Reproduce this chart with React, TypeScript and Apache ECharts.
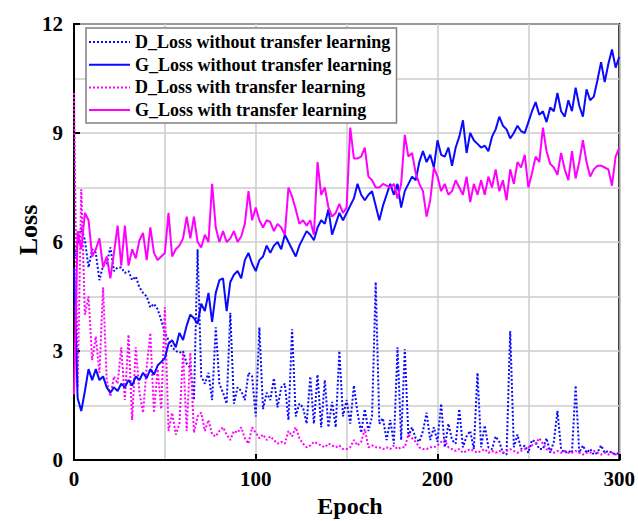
import React, { useEffect, useRef } from "react";
import * as echarts from "echarts";

// Epoch sampling step used for all series (values read every 2 epochs)
const EPOCH_STEP = 2;

const X_TICKS = [0, 100, 200, 300];
const Y_TICKS = [0, 3, 6, 9, 12];

const SERIES_NAMES = [
  "D_Loss without transfer learning",
  "G_Loss without transfer learning",
  "D_Loss with transfer learning",
  "G_Loss with transfer learning",
];

// D_Loss without transfer learning (blue, dotted)
const dLossWithout = [
  5.5, 6.0, 6.4, 6.05, 5.3, 5.8, 5.7, 4.95, 5.35, 5.4,
  5.85, 5.2, 5.3, 5.3, 5.15, 5.2, 4.95, 5.05, 4.75, 4.6,
  4.5, 4.2, 4.3, 4.15, 3.85, 3.5, 3.3, 3.1, 3.0, 2.95,
  3.0, 2.65, 2.55, 1.65, 5.8, 2.3, 2.1, 2.4, 1.65, 3.65,
  2.1, 1.85, 1.55, 4.05, 1.55, 2.0, 1.9, 1.65, 2.4, 2.3,
  1.2, 3.65, 1.4, 1.85, 1.65, 2.25, 1.45, 2.0, 2.1, 1.1,
  3.6, 1.2, 1.55, 1.45, 1.0, 2.3, 1.0, 2.35, 0.9, 2.2,
  0.9, 1.6, 0.9, 3.0, 1.2, 1.65, 1.0, 2.05, 1.3, 0.75,
  1.4, 0.8, 1.2, 4.9, 1.0, 1.15, 0.55, 1.1, 0.45, 3.1,
  0.55, 3.05, 0.65, 0.9, 0.6, 0.5, 0.8, 1.3, 0.55, 0.9,
  0.5, 1.55, 0.35, 1.0, 0.55, 0.45, 1.4, 0.35, 0.65, 0.8,
  0.3, 2.4, 0.35, 0.95, 0.35, 0.3, 0.65, 0.5, 0.2, 0.15,
  3.55, 0.35, 0.7, 0.3, 0.4, 0.2, 0.55, 0.5, 0.3, 0.3,
  0.6, 0.2, 0.5, 1.35, 0.3, 0.2, 0.25, 0.2, 2.05, 0.2,
  0.4, 0.2, 0.3, 0.15, 0.2, 0.4, 0.2, 0.25, 0.2, 0.15,
  0.2,
];

// G_Loss without transfer learning (blue, solid)
const gLossWithout = [
  5.3, 1.7, 1.35, 1.9, 2.5, 2.2, 2.5, 2.2, 2.3, 2.0,
  1.85, 2.0, 1.9, 2.1, 2.0, 2.2, 2.05, 2.3, 2.2, 2.4,
  2.25, 2.5, 2.35, 2.6, 2.7, 2.8, 3.2, 3.3, 3.1, 3.5,
  3.3, 3.7, 4.0, 3.9, 3.75, 4.3, 4.1, 4.6, 3.8, 4.6,
  4.95, 5.0, 4.1, 4.9, 5.1, 5.2, 5.0, 5.5, 5.7, 5.4,
  5.2, 5.5, 5.6, 5.9, 5.7, 5.9, 6.0, 5.8, 6.2, 6.0,
  5.8, 5.6, 5.9, 6.1, 6.3, 6.2, 6.05, 6.4, 6.6, 6.5,
  6.9, 6.2, 6.5, 6.8, 6.6, 6.8, 7.0, 7.2, 7.6, 7.3,
  7.15, 7.3, 7.4, 7.0, 6.6, 7.0, 7.3, 7.6, 7.3, 7.6,
  6.95, 7.4, 7.6, 7.8, 7.7, 8.2, 8.5, 8.2, 8.4, 8.05,
  8.8, 8.4, 8.35, 8.6, 8.1, 8.6, 8.9, 9.35, 8.45, 9.0,
  8.8, 8.7, 8.6, 8.65, 8.5, 8.9, 9.1, 9.45, 9.2, 9.1,
  8.85, 9.0, 9.2, 9.05, 9.0, 9.3, 9.6, 9.85, 9.5, 9.6,
  9.3, 9.7, 9.6, 10.1, 9.6, 9.45, 9.9, 9.6, 10.25, 9.75,
  9.45, 10.2, 9.9, 10.0, 10.45, 10.95, 10.4, 10.9, 11.3, 10.8,
  11.1,
];

// D_Loss with transfer learning (magenta, dotted)
const dLossWith = [
  10.1, 2.0, 7.45, 4.0, 4.5, 2.75, 3.4, 2.4, 4.75, 2.2,
  1.75, 2.3, 2.1, 3.1, 1.65, 3.45, 1.1, 3.1, 1.85, 1.3,
  2.55, 3.5, 1.3, 2.5, 1.4, 4.2, 0.8, 1.3, 0.7, 1.0,
  2.95, 0.8, 2.95, 0.75, 1.2, 1.3, 0.8, 1.1, 0.7, 0.65,
  0.8, 0.9, 0.7, 0.55, 0.8, 0.75, 0.9, 0.6, 0.45, 0.9,
  0.75, 0.6, 0.7, 0.55, 0.65, 0.55, 0.45, 0.5, 0.45, 0.8,
  0.65, 0.9, 0.6, 0.45, 0.35, 0.4, 0.5, 0.45, 0.4, 0.35,
  0.45, 0.4, 0.35, 0.4, 0.3, 0.3, 0.35, 0.55, 0.4, 0.5,
  0.85, 0.35, 0.4, 0.35, 0.35, 0.3, 0.35, 0.3, 0.4, 0.3,
  0.35, 0.35, 0.7, 0.6, 0.5, 0.35, 0.3, 0.3, 0.35, 0.35,
  0.4, 0.5, 0.55, 0.35, 0.3, 0.25, 0.3, 0.2, 0.25, 0.3,
  0.25, 0.2, 0.25, 0.3, 0.2, 0.25, 0.2, 0.25, 0.2, 0.25,
  0.3, 0.25, 0.2, 0.25, 0.3, 0.35, 0.4, 0.45, 0.6, 0.45,
  0.3, 0.25, 0.2, 0.25, 0.2, 0.25, 0.2, 0.2, 0.25, 0.2,
  0.15, 0.2, 0.2, 0.25, 0.2, 0.15, 0.2, 0.15, 0.2, 0.15,
  0.2,
];

// G_Loss with transfer learning (magenta, solid)
const gLossWith = [
  1.8, 6.3, 5.8, 6.8, 6.6, 5.6, 5.8, 6.1, 5.3, 5.6,
  5.0, 5.7, 6.45, 5.35, 6.45, 5.35, 5.8, 5.55, 6.05, 6.25,
  5.5, 6.4, 5.7, 5.5, 5.6, 5.7, 6.8, 5.6, 5.8, 5.9,
  6.1, 6.7, 6.1, 6.7, 6.0, 5.85, 6.2, 6.0, 7.6, 6.4,
  6.0, 6.3, 6.0, 6.1, 6.3, 6.0, 6.15, 6.5, 7.4, 6.6,
  6.95, 6.6, 6.4, 6.6, 6.55, 6.3, 6.5, 6.4, 6.2, 7.5,
  7.25, 6.9, 6.5, 6.6, 6.45, 6.6, 6.2, 8.2, 7.3, 7.5,
  6.95, 6.7, 6.8, 7.05, 6.8, 6.95, 9.15, 8.3, 8.3, 8.35,
  8.6, 7.8, 7.7, 7.5, 7.5, 7.6, 7.55, 7.5, 7.6, 7.2,
  7.6, 8.95, 8.35, 8.45, 7.9, 7.6, 7.4, 6.7, 7.15, 8.05,
  7.8, 7.4, 7.6, 7.3, 7.4, 7.7, 7.5, 7.3, 7.8, 7.1,
  7.6, 7.3, 7.7, 7.3, 7.8, 7.5, 8.0, 7.4, 7.7, 7.15,
  8.0, 7.6, 8.2, 8.05, 8.4, 7.5, 7.9, 8.35, 8.2, 9.15,
  8.5, 8.15, 8.05, 7.85, 8.45, 8.0, 7.7, 8.5, 7.75, 8.2,
  8.8, 8.2, 7.8, 8.0, 8.1, 8.1, 8.05, 8.0, 7.55, 8.35,
  8.6,
];

const BLUE = "#0a0aff";
const MAGENTA = "#ff00ff";
const FONT = "'Liberation Serif', 'Times New Roman', serif";

const toPairs = (vals: number[]) => vals.map((v, i) => [i * EPOCH_STEP, v]);

export default function App() {
  const ref = useRef<HTMLDivElement>(null);

  useEffect(() => {
    if (!ref.current) return;
    const chart = echarts.init(ref.current, undefined, { renderer: "svg" });

    const mkSeries = (name: string, vals: number[], color: string, dotted: boolean) => ({
      name,
      type: "line",
      data: toPairs(vals),
      symbol: "none",
      showSymbol: false,
      smooth: false,
      lineStyle: {
        color,
        width: 2,
        type: dotted ? [2, 2] : "solid",
      },
      itemStyle: { color },
      z: dotted ? 3 : 4,
    });

    chart.setOption({
      animation: false,
      backgroundColor: "#ffffff",
      grid: {
        left: 74,
        right: 17,
        top: 24,
        bottom: 61,
        show: true,
        borderColor: "#000",
        borderWidth: 2,
        backgroundColor: "transparent",
      },
      legend: {
        orient: "vertical",
        left: 86,
        top: 28,
        itemWidth: 41,
        itemHeight: 14,
        itemGap: 4.7,
        padding: [5, 5, 4, 2],
        borderColor: "#808080",
        borderWidth: 1.5,
        backgroundColor: "#ffffff",
        data: SERIES_NAMES,
        itemStyle: { opacity: 0 },
        textStyle: {
          fontFamily: FONT,
          fontWeight: "bold",
          fontSize: 18,
          color: "#000",
          lineHeight: 18,
        },
      },
      xAxis: {
        type: "value",
        min: X_TICKS[0],
        max: X_TICKS[X_TICKS.length - 1],
        interval: X_TICKS[1] - X_TICKS[0],
        axisLine: { show: true, lineStyle: { color: "#000", width: 2 } },
        axisTick: { show: true, inside: true, length: 6, lineStyle: { color: "#000", width: 2 } },
        axisLabel: {
          margin: 8,
          fontFamily: FONT,
          fontWeight: "bold",
          fontSize: 21,
          color: "#000",
        },
        splitLine: { show: true, lineStyle: { color: "#cccccc", width: 1.5 } },
        minorTick: { show: false, splitNumber: 2 },
        minorSplitLine: { show: true, lineStyle: { color: "#cccccc", width: 1.5 } },
      },
      yAxis: {
        type: "value",
        min: Y_TICKS[0],
        max: Y_TICKS[Y_TICKS.length - 1],
        interval: Y_TICKS[1] - Y_TICKS[0],
        axisLine: { show: true, lineStyle: { color: "#000", width: 2 } },
        axisTick: { show: true, inside: true, length: 6, lineStyle: { color: "#000", width: 2 } },
        axisLabel: {
          margin: 11,
          fontFamily: FONT,
          fontWeight: "bold",
          fontSize: 21,
          color: "#000",
        },
        splitLine: { show: true, lineStyle: { color: "#cccccc", width: 1.5 } },
        minorTick: { show: false, splitNumber: 2 },
        minorSplitLine: { show: true, lineStyle: { color: "#cccccc", width: 1.5 } },
      },
      graphic: [
        {
          type: "text",
          x: 28,
          y: 230,
          rotation: Math.PI / 2,
          style: {
            text: "Loss",
            fill: "#000",
            font: `bold 26px ${FONT}`,
            align: "center",
            verticalAlign: "middle",
          },
        },
        {
          type: "text",
          x: 350,
          y: 506,
          style: {
            text: "Epoch",
            fill: "#000",
            font: `bold 24px ${FONT}`,
            align: "center",
            verticalAlign: "middle",
          },
        },
      ],
      series: [
        mkSeries(SERIES_NAMES[0], dLossWithout, BLUE, true),
        mkSeries(SERIES_NAMES[1], gLossWithout, BLUE, false),
        mkSeries(SERIES_NAMES[2], dLossWith, MAGENTA, true),
        mkSeries(SERIES_NAMES[3], gLossWith, MAGENTA, false),
      ],
    });

    return () => chart.dispose();
  }, []);

  return <div ref={ref} style={{ width: 638, height: 521, position: "absolute", left: 0, top: 0 }} />;
}
